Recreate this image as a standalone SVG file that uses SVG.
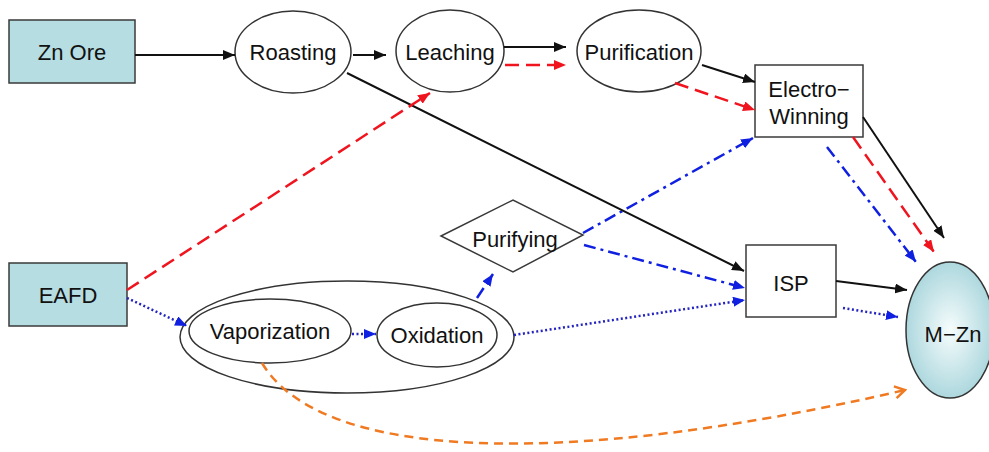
<svg xmlns="http://www.w3.org/2000/svg" width="989" height="452" viewBox="0 0 989 452">
<style>
  .box{fill:#B6DDE1;stroke:#3a3a3a;stroke-width:1.5}
  .wbox{fill:#fff;stroke:#3a3a3a;stroke-width:1.5}
  .ell{fill:#fff;stroke:#333;stroke-width:1.5}
  text{font-family:"Liberation Sans",Arial,sans-serif;font-size:22px;fill:#111;text-anchor:middle}
  .c{fill:none}
  .blk{stroke:#111;stroke-width:2;marker-end:url(#ab)}
  .red{stroke:#F0141E;stroke-width:2.5;stroke-dasharray:14 7;marker-end:url(#ar)}
  .bdd{stroke:#1020E0;stroke-width:2.5;stroke-dasharray:12 5 3 5;marker-end:url(#au)}
  .bdot{stroke:#2424C0;stroke-width:2.5;stroke-dasharray:2 2.5;marker-end:url(#au)}
  .org{stroke:#F07A22;stroke-width:2.5;stroke-dasharray:9 6;marker-end:url(#ao)}
</style>
<defs>
  <marker id="ab" markerUnits="userSpaceOnUse" markerWidth="12" markerHeight="10" refX="12" refY="5" orient="auto"><path d="M0,0 L12,5 L0,10 z" fill="#111"/></marker>
  <marker id="ar" markerUnits="userSpaceOnUse" markerWidth="12" markerHeight="10" refX="12" refY="5" orient="auto"><path d="M0,0 L12,5 L0,10 z" fill="#F0141E"/></marker>
  <marker id="au" markerUnits="userSpaceOnUse" markerWidth="12" markerHeight="10" refX="12" refY="5" orient="auto"><path d="M0,0 L12,5 L0,10 z" fill="#1020E0"/></marker>
  <marker id="ao" markerUnits="userSpaceOnUse" markerWidth="14" markerHeight="14" refX="12" refY="7" orient="auto"><path d="M2,1 L12,7 L2,13" fill="none" stroke="#F07A22" stroke-width="2.5"/></marker>
  <radialGradient id="mz" cx="0.5" cy="0.5" r="0.5">
    <stop offset="0" stop-color="#F6FCFC"/>
    <stop offset="1" stop-color="#ADD8DE"/>
  </radialGradient>
</defs>

<g id="zn-ore"><rect class="box" x="9" y="20" width="126" height="63"/><text x="72" y="60">Zn Ore</text></g>
<g id="roasting"><ellipse class="ell" cx="293" cy="52" rx="58" ry="41"/><text x="293" y="60">Roasting</text></g>
<g id="leaching"><ellipse class="ell" cx="450" cy="51" rx="54" ry="41"/><text x="450" y="60">Leaching</text></g>
<g id="purification"><ellipse class="ell" cx="639" cy="51" rx="62" ry="41"/><text x="639" y="60">Purification</text></g>
<g id="electro-winning"><rect class="wbox" x="755" y="65" width="108" height="72"/><text x="809" y="97">Electro−</text><text x="809" y="124">Winning</text></g>
<g id="eafd"><rect class="box" x="9" y="263" width="118" height="63"/><text x="68" y="303">EAFD</text></g>
<g id="group"><ellipse cx="347" cy="337" rx="167" ry="56" fill="none" stroke="#333" stroke-width="1.5"/></g>
<g id="vaporization"><ellipse class="ell" cx="270" cy="331" rx="81" ry="32"/><text x="270" y="339">Vaporization</text></g>
<g id="oxidation"><ellipse class="ell" cx="437" cy="335" rx="60" ry="32"/><text x="437" y="343">Oxidation</text></g>
<g id="purifying"><polygon class="wbox" points="441,236 513,200 583,235 513,272"/><text x="515" y="247">Purifying</text></g>
<g id="isp"><rect class="wbox" x="746" y="245" width="90" height="72"/><text x="791" y="291">ISP</text></g>
<g id="m-zn"><ellipse cx="950" cy="330" rx="44" ry="68" fill="url(#mz)" stroke="#333" stroke-width="1.5"/><text x="953" y="342">M−Zn</text></g>

<g id="connectors" class="c">
  <path class="c blk" d="M135,55 L235,55"/>
  <path class="c blk" d="M353,55 L386,55"/>
  <path class="c blk" d="M504,47 L566,47"/>
  <path class="c red" d="M505,65 L566,65"/>
  <path class="c blk" d="M702,65 L755,82"/>
  <path class="c red" d="M675,83 L755,110"/>
  <path class="c blk" d="M863,117 L944,238"/>
  <path class="c red" d="M853,137 L934,252"/>
  <path class="c bdd" d="M827,147 L916,262"/>
  <path class="c bdd" d="M583,233 L753,138"/>
  <path class="c bdd" d="M584,245 L745,288"/>
  <path class="c blk" d="M347,73 L744,271"/>
  <path class="c bdot" d="M514,335 L745,300"/>
  <path class="c blk" d="M836,281 L907,290"/>
  <path class="c bdot" d="M843,308 L898,317"/>
  <path class="c red" d="M127,290 L430,93"/>
  <path class="c bdot" d="M127,298 L187,326"/>
  <path class="c bdot" d="M352,334 L376,334"/>
  <path class="c bdd" d="M477,298 L493,274"/>
  <path class="c org" d="M262,363 C320,460 560,470 905,390"/>
</g>
</svg>
